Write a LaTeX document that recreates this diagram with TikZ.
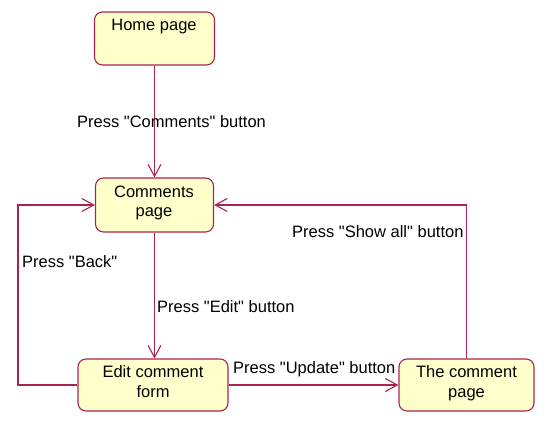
\documentclass[tikz,border=0pt]{standalone}
\usepackage{fontspec}
\setmainfont{Liberation Sans}
\usetikzlibrary{arrows.meta}
\definecolor{edge}{RGB}{170,35,80}
\definecolor{boxfill}{RGB}{255,255,204}
\newcommand{\qq}{\textquotedbl}
\tikzset{
  statebox/.style={draw=edge, fill=boxfill, line width=1.1pt, rounded corners=8pt, inner sep=0pt},
  conn/.style={draw=edge, line width=1.1pt, -{Straight Barb[length=12pt,width=13pt,line width=1.1pt]}},
  txt/.style={anchor=base, inner sep=0pt, font=\fontsize{16.5}{19}\selectfont, text=black},
  lbl/.style={anchor=base west, inner sep=0pt, font=\fontsize{16.5}{19}\selectfont, text=black}
}
\begin{document}
\begin{tikzpicture}[x=1pt,y=-1pt]
\useasboundingbox (0,0) rectangle (559,432);
% boxes
\node[statebox, minimum width=120pt, minimum height=53pt] (home) at (154.5,38.5) {};
\node[statebox, minimum width=118pt, minimum height=54pt] (comments) at (154.5,205) {};
\node[statebox, minimum width=150pt, minimum height=52pt] (edit) at (153,385) {};
\node[statebox, minimum width=135pt, minimum height=52pt] (cpage) at (466.5,385) {};
% box texts
\node[txt] (t1) at (154,30) {Home page};
\node[txt] (t2a) at (154,197) {Comments};
\node[txt] (t2b) at (154,216) {page};
\node[txt] (t3a) at (153,377) {Edit comment};
\node[txt] (t3b) at (153,397) {form};
\node[txt] (t4a) at (466.5,377) {The comment};
\node[txt] (t4b) at (466.5,397) {page};
% connectors
\draw[conn] (home.south) -- (comments.north);
\draw[conn] (comments.south) -- (comments.south |- edit.north);
\draw[conn] (edit.east) -- (cpage.west);
\coordinate (lc) at (18,385);
\draw[conn] (edit.west) -- (lc) |- (comments.west);
\draw[conn] (cpage.north) |- (comments.east);
% labels
\node[lbl] (l1) at (77,127) {Press \qq Comments\qq{} button};
\node[lbl] (l2) at (22,267) {Press \qq Back\qq};
\node[lbl] (l3) at (157,312) {Press \qq Edit\qq{} button};
\node[lbl] (l4) at (233,373) {Press \qq Update\qq{} button};
\node[lbl] (l5) at (292,237) {Press \qq Show all\qq{} button};
\end{tikzpicture}
\end{document}
